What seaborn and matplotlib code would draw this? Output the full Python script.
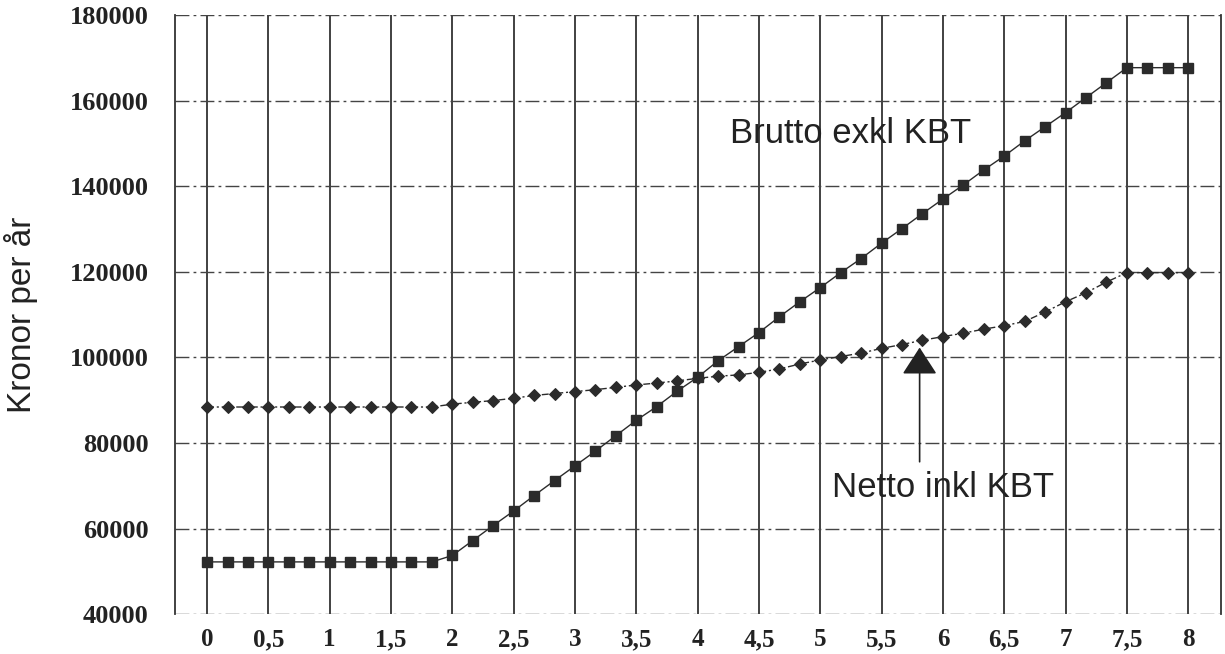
import numpy as np
import pandas as pd
import matplotlib
matplotlib.use("Agg")
import matplotlib.pyplot as plt
from matplotlib.ticker import MultipleLocator, FuncFormatter
import seaborn as sns

# DATA
# x axis: years, one point every 1/6 year from 0 to 8
x_years = np.arange(49) / 6.0

brutto_exkl_kbt = [
    52200, 52200, 52200, 52200, 52200, 52200, 52200, 52200, 52200, 52200,
    52200, 52200, 53700, 57200, 60700, 64100, 67700, 71200, 74650, 78100,
    81700, 85300, 88500, 92100, 95350, 99200, 102500, 105800, 109500, 113000,
    116300, 119800, 123100, 126700, 130100, 133600, 137000, 140300, 143800, 147050,
    150600, 153900, 157200, 160700, 164200, 167700, 167700, 167700, 167700,
]
netto_inkl_kbt = [
    88400, 88400, 88400, 88400, 88400, 88400, 88400, 88400, 88400, 88400,
    88400, 88400, 89070, 89500, 89900, 90450, 91100, 91550, 92000, 92450,
    93000, 93550, 94000, 94500, 95100, 95600, 95900, 96500, 97300, 98450,
    99400, 100200, 101000, 102100, 103000, 104000, 104850, 105650, 106600, 107400,
    108400, 110600, 113000, 115100, 117600, 119800, 119800, 119800, 119800,
]
y_ticks = [40000, 60000, 80000, 100000, 120000, 140000, 160000, 180000]

df = pd.DataFrame({"x": x_years, "brutto": brutto_exkl_kbt, "netto": netto_inkl_kbt})

# PLOTTING
sns.set_style("white")
plt.rcParams["font.family"] = ["Liberation Sans", "DejaVu Sans"]
ink = "#2b2b2b"

fig = plt.figure(figsize=(12.25, 6.54), dpi=100)
ax = fig.add_axes([0.143, 0.061, 0.854, 0.916])

# brutto: squares, thin solid line
sns.lineplot(data=df, x="x", y="brutto", ax=ax, color=ink, linewidth=1.0,
             marker="s", markersize=6.5, markeredgecolor=ink, markerfacecolor=ink,
             markeredgewidth=1.0)
# netto: diamonds, thin dash-dot line
sns.lineplot(data=df, x="x", y="netto", ax=ax, color=ink, linewidth=1.0,
             linestyle=(0, (5, 2, 1.5, 2)),
             marker="D", markersize=6.5, markeredgecolor=ink, markerfacecolor=ink)

ax.set_xlim(-0.26, 8.27)
ax.set_ylim(40000, 180000)

# grid: solid verticals every 0.5, dash-dot horizontals every 20000
for xv in np.arange(0, 8.01, 0.5):
    ax.axvline(xv, color="#333333", lw=1.3, zorder=0)
for yv in y_ticks:
    ax.axhline(yv, color="#444444", lw=1.0, linestyle=(0, (10, 3, 2, 3)), zorder=0)

for side in ["top", "bottom"]:
    ax.spines[side].set_visible(False)
for side in ["left", "right"]:
    ax.spines[side].set_color("#333333")
    ax.spines[side].set_linewidth(1.3)

ax.xaxis.set_major_locator(MultipleLocator(0.5))
ax.xaxis.set_minor_locator(MultipleLocator(1 / 6))
ax.xaxis.set_major_formatter(FuncFormatter(lambda v, p: ("%g" % v).replace(".", ",")))
ax.set_yticks(y_ticks)
ax.tick_params(axis="x", which="both", direction="in", length=4, color="#444444",
               pad=10, labelsize=18)
ax.tick_params(axis="y", which="both", length=0, pad=19, labelsize=19)
for lbl in ax.get_xticklabels() + ax.get_yticklabels():
    lbl.set_family(["Liberation Serif", "DejaVu Serif"])
    lbl.set_weight("bold")
    lbl.set_color("#222222")

ax.set_xlabel("")
ax.set_ylabel("Kronor per år", fontsize=24, color="#222222")
ax.yaxis.set_label_coords(-0.131, 0.5)

# annotations
ax.text(5.25, 152300, "Brutto exkl KBT", fontsize=25, color="#222222",
        ha="center", va="center")
ax.text(6.0, 69500, "Netto inkl KBT", fontsize=25, color="#222222",
        ha="center", va="center")
ax.annotate("", xy=(5.81, 102300), xytext=(5.81, 75600),
            arrowprops=dict(arrowstyle="-|>,head_length=1.7,head_width=1.1",
                            color="#222222", lw=1.2, shrinkA=0, shrinkB=0))

plt.savefig("out.png", dpi=100)
